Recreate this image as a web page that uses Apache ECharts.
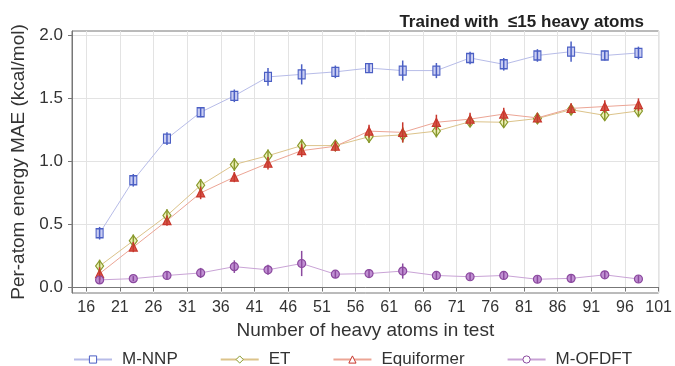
<!DOCTYPE html>
<html>
<head>
<meta charset="utf-8">
<script src="https://cdn.jsdelivr.net/npm/echarts@6/dist/echarts.min.js"></script>
<style>
html,body{margin:0;padding:0;background:#fff;}
#chart{width:675px;height:366px;}
</style>
</head>
<body>
<div id="chart"></div>
<script>
// ---- data ----
const xValues = [18, 23, 28, 33, 38, 43, 48, 53, 58, 63, 68, 73, 78, 83, 88, 93, 98];
const xTicks = [16, 21, 26, 31, 36, 41, 46, 51, 56, 61, 66, 71, 76, 81, 86, 91, 96, 101];
const yTicks = [0, 0.5, 1.0, 1.5, 2.0];

const mnnp    = [0.43, 0.85, 1.18, 1.39, 1.52, 1.67, 1.69, 1.71, 1.74, 1.72, 1.72, 1.82, 1.77, 1.84, 1.87, 1.84, 1.86];
const mnnpErr = [0.05, 0.05, 0.05, 0.04, 0.05, 0.07, 0.08, 0.05, 0.04, 0.08, 0.06, 0.05, 0.05, 0.05, 0.08, 0.04, 0.05];

const et      = [0.17, 0.37, 0.57, 0.81, 0.975, 1.045, 1.125, 1.125, 1.195, 1.21, 1.24, 1.315, 1.31, 1.34, 1.41, 1.365, 1.40];
const etErr   = [0.05, 0.05, 0.05, 0.05, 0.05, 0.05, 0.05, 0.04, 0.05, 0.06, 0.05, 0.04, 0.04, 0.04, 0.04, 0.04, 0.05];

const equi    = [0.11, 0.32, 0.53, 0.75, 0.875, 0.985, 1.085, 1.12, 1.24, 1.23, 1.31, 1.335, 1.375, 1.345, 1.42, 1.435, 1.45];
const equiErr = [0.05, 0.04, 0.04, 0.05, 0.04, 0.05, 0.05, 0.04, 0.05, 0.08, 0.06, 0.05, 0.05, 0.04, 0.04, 0.05, 0.05];

const ofdft    = [0.06, 0.07, 0.095, 0.115, 0.165, 0.14, 0.19, 0.105, 0.11, 0.13, 0.095, 0.085, 0.095, 0.065, 0.072, 0.10, 0.067];
const ofdftErr = [0.03, 0.02, 0.03, 0.04, 0.05, 0.04, 0.10, 0.03, 0.03, 0.06, 0.03, 0.03, 0.03, 0.03, 0.03, 0.03, 0.03];

const names = ['M-NNP', 'ET', 'Equiformer', 'M-OFDFT'];

// ---- styling ----
const FONT = 'Liberation Sans, Arial, sans-serif';
const styles = [
  {vals: mnnp,  err: mnnpErr,  marker: '#4b5fc4', fill: '#c9cdf2', line: '#b7bce8', symbol: 'rect',     size: [7, 9]},
  {vals: et,    err: etErr,    marker: '#88992c', fill: '#eef0b8', line: '#dcc38a', symbol: 'diamond',  size: [8, 11]},
  {vals: equi,  err: equiErr,  marker: '#c8372d', fill: '#d9564a', line: '#eca595', symbol: 'triangle', size: [8, 8]},
  {vals: ofdft, err: ofdftErr, marker: '#8b4a9f', fill: '#c08fd2', line: '#c9a3d6', symbol: 'circle',   size: [8, 8]}
];

const series = [];
styles.forEach((s, i) => {
  series.push({
    name: names[i],
    type: 'line',
    data: xValues.map((x, k) => [x, s.vals[k]]),
    symbol: s.symbol,
    symbolSize: s.size,
    lineStyle: {color: s.line, width: 1},
    itemStyle: {color: s.fill, borderColor: s.marker, borderWidth: 1.2},
    z: 3 + i,
    animation: false
  });
});
styles.forEach((s, i) => {
  series.push({
    name: names[i] + ' error',
    type: 'custom',
    data: xValues.map((x, k) => [x, s.vals[k] - s.err[k], s.vals[k] + s.err[k]]),
    renderItem: (params, api) => {
      const p1 = api.coord([api.value(0), api.value(1)]);
      const p2 = api.coord([api.value(0), api.value(2)]);
      return {
        type: 'line',
        shape: {x1: p1[0], y1: p1[1], x2: p2[0], y2: p2[1]},
        style: {stroke: s.marker, lineWidth: 1.5}
      };
    },
    z: 10 + i,
    silent: true,
    animation: false
  });
});

const chart = echarts.init(document.getElementById('chart'), null, {renderer: 'canvas'});
chart.setOption({
  backgroundColor: '#fff',
  animation: false,
  title: {
    text: 'Trained with  \u226415 heavy atoms',
    right: 26, top: 9,
    textStyle: {fontFamily: FONT, fontSize: 17, fontWeight: 'bold', color: '#222'}
  },
  legend: {
    data: names.map((n, i) => ({
      name: n,
      itemStyle: {color: '#fff', borderColor: styles[i].marker, borderWidth: 1}
    })),
    left: 68, top: 346,
    itemWidth: 38, itemHeight: 9, itemGap: 42,
    textStyle: {fontFamily: FONT, fontSize: 17, color: '#333', padding: [0, 0, 0, 5]}
  },
  grid: {
    left: 72, right: 13, top: 31, bottom: 73,
    show: true, borderColor: '#777', borderWidth: 1, backgroundColor: 'transparent'
  },
  xAxis: {
    type: 'value',
    min: 13.9, max: 101,
    name: 'Number of heavy atoms in test',
    nameLocation: 'middle', nameGap: 28,
    nameTextStyle: {fontFamily: FONT, fontSize: 19, color: '#333'},
    axisLine: {show: true, lineStyle: {color: '#777'}},
    axisTick: {show: true, customValues: xTicks, length: 4, lineStyle: {color: '#777'}},
    axisLabel: {customValues: xTicks, fontFamily: FONT, fontSize: 16, color: '#333', margin: 7},
    splitLine: {show: true, lineStyle: {color: '#e3e3e3', width: 1}}
  },
  yAxis: {
    type: 'value',
    min: -0.044, max: 2.034,
    name: 'Per-atom energy MAE (kcal/mol)',
    nameLocation: 'middle', nameGap: 36,
    nameTextStyle: {fontFamily: FONT, fontSize: 19, color: '#333'},
    axisLine: {show: true, lineStyle: {color: '#777'}},
    axisTick: {show: true, customValues: yTicks, length: 4, lineStyle: {color: '#777'}},
    axisLabel: {customValues: yTicks, fontFamily: FONT, fontSize: 17, color: '#333', margin: 9,
      formatter: v => v.toFixed(1)},
    splitLine: {show: true, lineStyle: {color: '#e3e3e3', width: 1}}
  },
  series: series
});
</script>
</body>
</html>
